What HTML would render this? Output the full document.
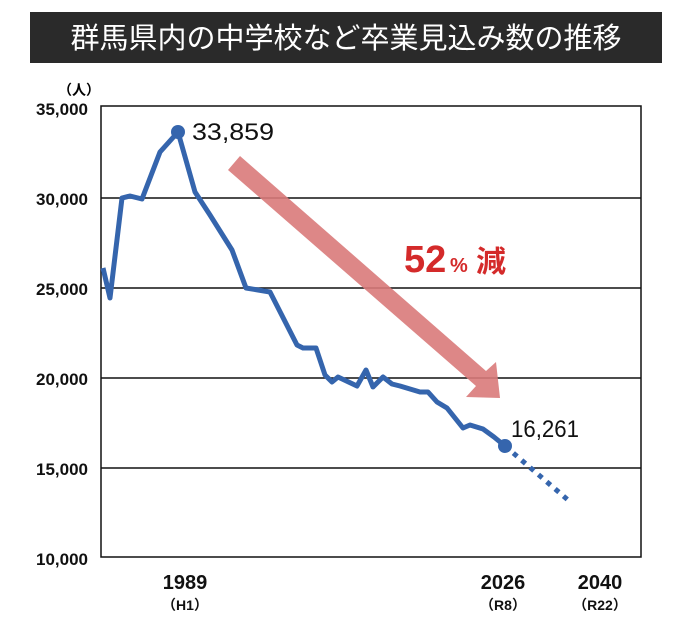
<!DOCTYPE html>
<html><head><meta charset="utf-8"><style>
body{margin:0;background:#fff;width:686px;height:630px;overflow:hidden}
svg text{font-family:"Liberation Sans","Noto Sans CJK JP",sans-serif}
</style></head><body>
<svg width="686" height="630" viewBox="0 0 686 630" xmlns="http://www.w3.org/2000/svg">
<rect x="30" y="12" width="632" height="51" fill="#2a2a2a"/>
<text x="346" y="48" font-size="29" fill="#fff" text-anchor="middle" font-family="Noto Sans CJK JP,sans-serif">群馬県内の中学校など卒業見込み数の推移</text>
<text x="58" y="95" font-size="14" fill="#000" font-weight="bold" font-family="Noto Sans CJK JP,sans-serif">（人）</text>
<g font-size="17" fill="#111" text-anchor="end" font-weight="bold">
<text x="88" y="115">35,000</text><text x="88" y="205">30,000</text><text x="88" y="295">25,000</text>
<text x="88" y="385">20,000</text><text x="88" y="475">15,000</text><text x="88" y="565">10,000</text></g>
<g stroke="#111" stroke-width="1.5" fill="none">
<line x1="101" y1="198" x2="641" y2="198"/><line x1="101" y1="288" x2="641" y2="288"/>
<line x1="101" y1="378" x2="641" y2="378"/><line x1="101" y1="468" x2="641" y2="468"/>
<rect x="101" y="106" width="540" height="451"/></g>
<polygon points="228,170 240,156 486,371 496,362 500,398 466,397 476,386" fill="#d97a7a" opacity="0.9"/>
<text x="404" y="272" font-size="38" font-weight="bold" fill="#d42a2a">52</text>
<text x="450" y="272" font-size="20" font-weight="bold" fill="#d42a2a">%</text>
<text x="476" y="272" font-size="30" font-weight="bold" fill="#d42a2a" font-family="Noto Sans CJK JP,sans-serif">減</text>
<polyline fill="none" stroke="#3565ad" stroke-width="5" stroke-linejoin="round" points="103,268 110,298 122,198 130,196 142,199 160,152 178,132 195,192 210,215 232,250 246,288 258,290 270,292 297,345 303,348 316,348 325,375 332,382 338,377 357,386 366,370 373,387 383,377 392,384 400,386 420,392 428,392 437,402 447,408 463,428 470,425 483,429 494,437 505,446"/>
<line x1="505" y1="446" x2="568" y2="500" stroke="#3565ad" stroke-width="5" stroke-dasharray="5,6"/>
<circle cx="178" cy="132" r="7" fill="#3565ad"/><circle cx="505" cy="446" r="7" fill="#3565ad"/>
<text x="192" y="140" font-size="24" fill="#111" textLength="82" lengthAdjust="spacingAndGlyphs">33,859</text>
<text x="511" y="437" font-size="24" fill="#111" textLength="68" lengthAdjust="spacingAndGlyphs">16,261</text>
<g font-weight="bold" fill="#111" text-anchor="middle">
<text x="185" y="589" font-size="20">1989</text><text x="185" y="610" font-size="14">（H1）</text>
<text x="503" y="589" font-size="20">2026</text><text x="503" y="610" font-size="14">（R8）</text>
<text x="600" y="589" font-size="20">2040</text><text x="600" y="610" font-size="14">（R22）</text></g>
</svg>
</body></html>
